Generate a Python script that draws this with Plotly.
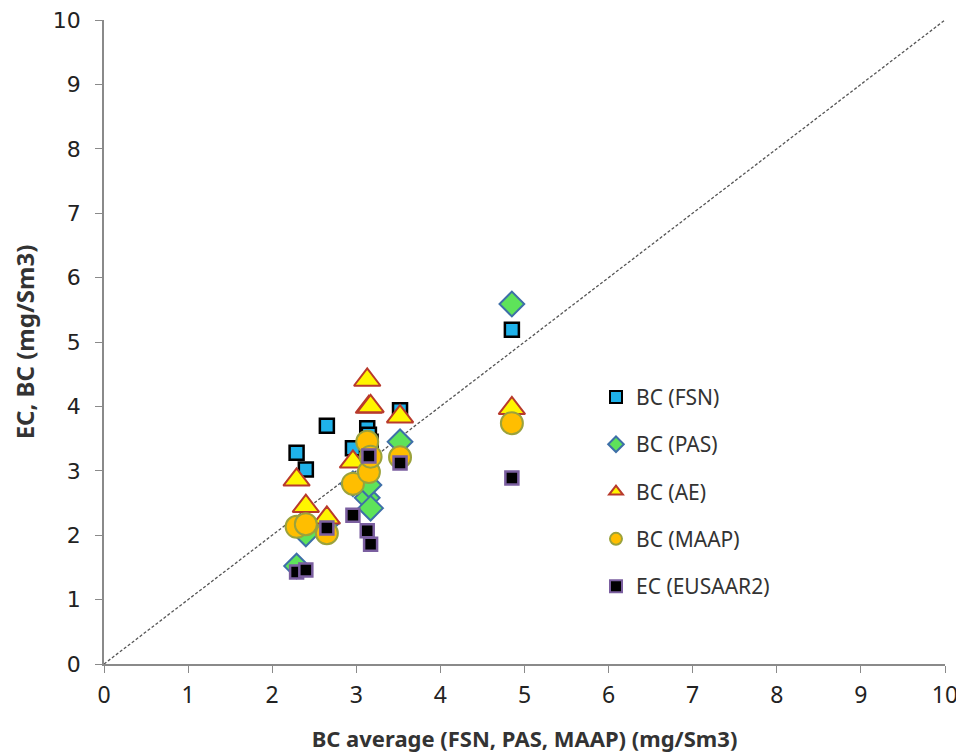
import plotly.graph_objects as go

bc_avg = [2.29, 2.40, 2.65, 2.96, 3.13, 3.15, 3.17, 3.52, 4.85]
bc_fsn = [3.28, 3.02, 3.70, 3.35, 3.66, 3.56, 3.45, 3.94, 5.19]
bc_pas = [1.52, 2.02, 2.19, 2.80, 2.58, 2.78, 2.42, 3.45, 5.59]
bc_ae = [2.86, 2.45, 2.27, 3.14, 4.41, 3.99, 4.00, 3.84, 3.97]
bc_maap = [2.13, 2.17, 2.03, 2.80, 3.45, 2.98, 3.22, 3.21, 3.74]
ec_eusaar2 = [1.43, 1.46, 2.11, 2.31, 2.07, 3.23, 1.86, 3.12, 2.89]
one_to_one = [0, 10]

fig = go.Figure()

fig.add_trace(go.Scatter(x=one_to_one, y=one_to_one, mode="lines",
                         line=dict(color="#555555", width=1.3, dash="3px,2px"),
                         showlegend=False, hoverinfo="skip"))

series = [
    ("BC (FSN)", bc_fsn, "square", "#1FB2EA", "#000000", 14, 2.5),
    ("BC (PAS)", bc_pas, "diamond", "#5EE35A", "#3E6FA8", 19, 2.0),
    ("BC (AE)", bc_ae, "triangle-up", "#FFF500", "#B83A2C", 23, 2.0),
    ("BC (MAAP)", bc_maap, "circle", "#FFBE00", "#9BA23C", 22, 2.0),
    ("EC (EUSAAR2)", ec_eusaar2, "square", "#000000", "#7B5FA0", 13, 2.5),
]
for name, ys, sym, fill, edge, size, lw in series:
    fig.add_trace(go.Scatter(x=bc_avg, y=ys, mode="markers", name=name,
                             legendgroup=name,
                             marker=dict(symbol=sym, color=fill, size=size,
                                         line=dict(color=edge, width=lw))))

# page body adds an 8px margin at left/top, so the figure is 8px smaller
fig.update_layout(
    width=956, height=748,
    margin=dict(l=96, r=19, t=12, b=92),
    paper_bgcolor="white", plot_bgcolor="white",
    font=dict(family="Noto Sans, Liberation Sans, sans-serif", color="#222222"),
    legend=dict(x=0.585, y=0.446, xanchor="left", yanchor="top",
                font=dict(size=21, color="#333333"),
                tracegroupgap=17, itemsizing="constant",
                bgcolor="rgba(0,0,0,0)"),
    showlegend=True,
)
fig.update_xaxes(range=[0, 10], dtick=1, tick0=0, showgrid=False, zeroline=False,
                 automargin=False, ticklabeloverflow="allow",
                 showline=True, linecolor="#8a8a8a", linewidth=1.5,
                 ticks="outside", ticklen=7, tickcolor="#8a8a8a",
                 ticklabelstandoff=3,
                 tickfont=dict(size=23, family="Noto Sans, sans-serif", color="#222222"),
                 title=dict(text="<b>BC average (FSN, PAS, MAAP) (mg/Sm3)</b>",
                            font=dict(size=22, color="#333333"), standoff=22))
fig.update_yaxes(range=[0, 10], dtick=1, tick0=0, showgrid=False, zeroline=False,
                 automargin=False, ticklabeloverflow="allow",
                 showline=True, linecolor="#8a8a8a", linewidth=1.5,
                 ticks="outside", ticklen=7, tickcolor="#8a8a8a",
                 tickfont=dict(size=22, family="DejaVu Sans, sans-serif", color="#222222"),
                 ticklabelstandoff=10,
                 title=dict(text="<b>EC, BC (mg/Sm3)</b>",
                            font=dict(size=24, color="#333333"), standoff=12))

fig.write_html("out.html")
